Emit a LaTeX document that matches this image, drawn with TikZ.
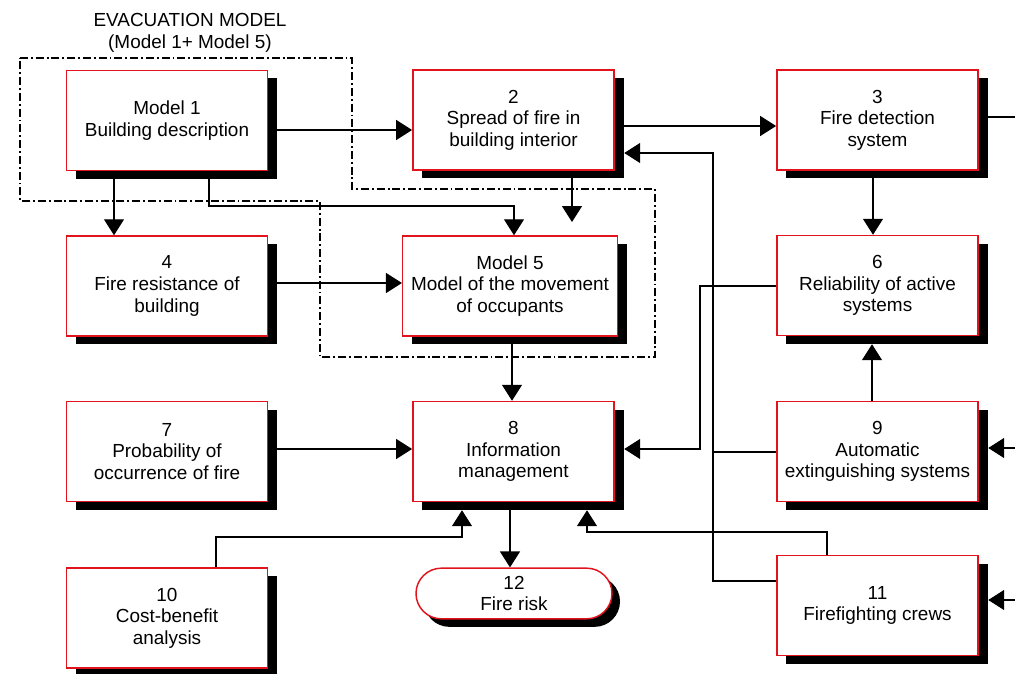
\documentclass[tikz,border=0pt]{standalone}
\usepackage{fontspec}
\setmainfont{Liberation Sans}
\usetikzlibrary{arrows.meta,shapes.misc,shadows,calc}
\pgfdeclarelayer{bg}
\pgfsetlayers{bg,main}
\definecolor{boxred}{RGB}{225,20,30}
\begin{document}
\begin{tikzpicture}[x=0.75pt,y=-0.75pt,
  txt/.style={font=\fontsize{14.2}{16.2}\selectfont, align=center},
  box/.style={txt, draw=boxred, line width=1.1pt, fill=white,
    minimum width=151pt, minimum height=75pt, inner sep=2pt,
    general shadow={fill=black, shadow xshift=7pt, shadow yshift=-6pt}},
  wide/.style={minimum width=161pt},
  pill/.style={txt, draw=boxred, line width=1.1pt, fill=white,
    rounded rectangle, minimum width=151pt, minimum height=38pt, inner sep=2pt,
    general shadow={fill=black, shadow xshift=6pt, shadow yshift=-6pt}},
  conn/.style={line width=1pt},
  arr/.style={conn, -{Triangle[length=12pt,width=15pt]}},
  frame/.style={line width=0.8pt, dash pattern=on 6pt off 2.2pt on 1.4pt off 2.2pt}
]
\useasboundingbox (0,0) rectangle (1015,674);

% title
\node[txt] (title) at (190,33) {EVACUATION MODEL\\(Model 1+ Model 5)};

% frame of the evacuation model
\draw[frame] (20,58) -- (352,58) -- (352,189) -- (655,189) -- (655,357)
  -- (320,357) -- (320,201) -- (20,201) -- cycle;

% boxes
\node[box] (b1) at (167,120.5) {Model 1\\Building description};
\node[box] (b2) at (513.5,120) {2\\Spread of fire in\\building interior};
\node[box] (b3) at (877.5,120) {3\\Fire detection\\system};
\node[box] (b4) at (167,286) {4\\Fire resistance of\\building};
\node[box,wide] (b5) at (510,286) {Model 5\\Model of the movement\\of occupants};
\node[box] (b6) at (877.5,285.5) {6\\Reliability of active\\systems};
\node[box] (b7) at (167,451.5) {7\\Probability of\\occurrence of fire};
\node[box] (b8) at (513.5,451.5) {8\\Information\\management};
\node[box] (b9) at (877.5,451.5) {9\\Automatic\\extinguishing systems};
\node[box] (b10) at (167,618) {10\\Cost-benefit\\analysis};
\node[box] (b11) at (877.5,605.5) {11\\Firefighting crews};
\node[pill] (b12) at (514,593.5) {12\\Fire risk};

% shadow corners
\coordinate (b2se) at ([shift={(7pt,-6pt)}]b2.south east);
\coordinate (b6se) at ([shift={(7pt,-6pt)}]b6.south east);
\coordinate (b8se) at ([shift={(7pt,-6pt)}]b8.south east);
\coordinate (b9se) at ([shift={(7pt,-6pt)}]b9.south east);
\coordinate (b11se) at ([shift={(7pt,-6pt)}]b11.south east);

% free ends at the right border
\coordinate (out3) at (1015,117);
\coordinate (in9) at (1015,448);
\coordinate (in11) at (1015,600);
\coordinate (tip25) at (572,222);

\begin{pgfonlayer}{bg}
\fill[white] (0,0) rectangle (1015,674);
\draw[arr] (b1.east |- 0,130) -- (b2.west |- 0,130);
\draw[arr] (b2.east |- 0,126) -- (b3.west |- 0,126);
\draw[conn] (b3.east |- 0,117) -- (out3);
\draw[arr] (b11.west |- 0,581) -- (713,581) -- (713,153) -- (b2se |- 0,153);
\draw[conn] (b9.west |- 0,452) -- (713,452);
\draw[arr] (b2.south -| tip25) -- (tip25);
\draw[arr] (b1.south -| 114,0) -- (b4.north -| 114,0);
\draw[arr] (b1.south -| 209,0) -- (209,206) -- (514,206) -- (b5.north -| 514,0);
\draw[arr] (b4.east |- 0,283) -- (b5.west |- 0,283);
\draw[arr] (b3.south -| 873,0) -- (b6.north -| 873,0);
\draw[arr] (b9.north -| 872,0) -- (b6se -| 872,0);
\draw[arr] (b6.west |- 0,286) -- (700,286) -- (700,449) -- (b8se |- 0,449);
\draw[arr] (in9) -- (b9se |- in9);
\draw[arr] (in11) -- (b11se |- in11);
\draw[arr] (b5.south -| 512,0) -- (b8.north -| 512,0);
\draw[arr] (b7.east |- 0,449) -- (b8.west |- 0,449);
\draw[arr] (b8.south -| 510,0) -- (b12.north -| 510,0);
\draw[arr] (b10.north -| 216,0) -- (216,537) -- (462,537) -- (b8se -| 462,0);
\draw[arr] (b11.north -| 827,0) -- (827,532) -- (587,532) -- (b8se -| 587,0);
\end{pgfonlayer}
\end{tikzpicture}
\end{document}
